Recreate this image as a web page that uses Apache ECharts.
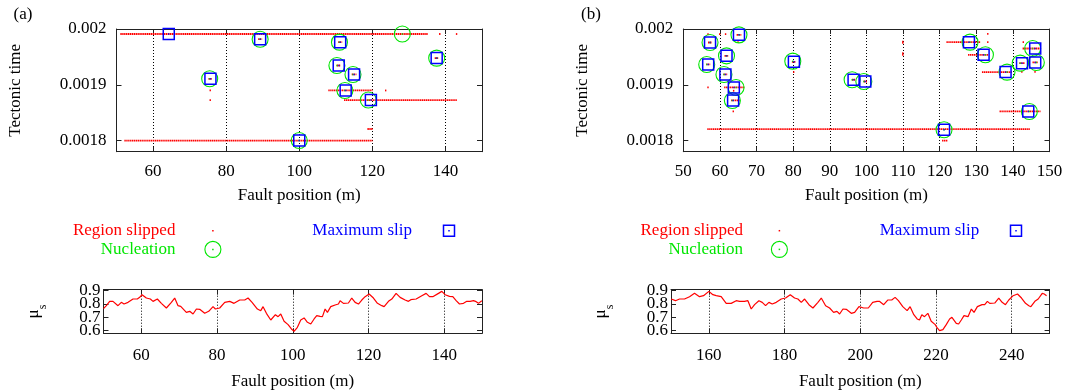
<!DOCTYPE html>
<html>
<head>
<meta charset="utf-8">
<script src="https://cdn.jsdelivr.net/npm/echarts@6/dist/echarts.min.js"></script>
<style>
  html, body { margin: 0; background: #fff; }
  #chart { width: 1067px; height: 392px; }
</style>
</head>
<body>
<div id="chart"></div>
<script>
// ---- data ----
// slipped regions: [from, to, tectonic time]
const slippedA = [
  [51.3, 135.0, 0.001991], [138.5, 138.5, 0.001991], [143.1, 143.1, 0.001991],
  [89.0, 89.6, 0.0019817],
  [75.4, 75.9, 0.0019107], [75.7, 75.7, 0.0018898], [75.7, 75.7, 0.0018726],
  [110.9, 111.5, 0.0019764], [110.5, 111.1, 0.0019346], [114.6, 115.4, 0.0019185],
  [108.2, 119.8, 0.0018898], [123.7, 123.7, 0.0018898],
  [112.5, 142.9, 0.0018726],
  [137.3, 137.9, 0.0019478],
  [52.4, 119.8, 0.0018],
  [118.9, 119.8, 0.0018207]
];
const maxSlipA = [
  [64.3, 0.001991], [89.3, 0.0019817], [75.7, 0.0019107], [111.2, 0.0019764],
  [110.8, 0.0019346], [115.0, 0.0019185], [112.7, 0.0018898], [119.6, 0.0018726],
  [137.6, 0.0019478], [100.0, 0.0018]
];
const nucleationA = [
  [128.2, 0.001991], [89.3, 0.0019817], [75.5, 0.0019107], [111.0, 0.0019764],
  [110.3, 0.0019346], [114.7, 0.0019185], [112.5, 0.0018898], [118.9, 0.0018726],
  [137.6, 0.0019478], [100.0, 0.0018]
];

const slippedB = [
  [56.8, 56.8, 0.0019908], [60.0, 60.0, 0.0019908], [61.6, 61.6, 0.0019908],
  [64.8, 65.6, 0.0019895], [65.0, 65.0, 0.0019764],
  [57.0, 57.6, 0.0019758], [61.5, 62.1, 0.0019519], [56.5, 57.1, 0.0019364],
  [61.2, 61.8, 0.0019185],
  [61.4, 66.4, 0.0018952], [56.8, 56.8, 0.0018952], [63.8, 63.8, 0.0018893],
  [63.3, 65.1, 0.0018719], [63.7, 63.7, 0.0018522],
  [79.9, 80.5, 0.0019412], [80.2, 80.2, 0.0019227],
  [96.3, 96.8, 0.001909], [99.5, 100.0, 0.0019059],
  [110.0, 110.0, 0.0019775], [110.0, 110.0, 0.001975],
  [110.0, 110.0, 0.0019565], [110.0, 110.0, 0.0019535],
  [56.8, 144.5, 0.0018206], [120.9, 122.0, 0.0018],
  [122.1, 130.9, 0.0019764], [133.2, 133.2, 0.0019913], [133.2, 133.2, 0.0019764],
  [128.0, 133.0, 0.0019537],
  [131.8, 139.6, 0.0019227],
  [142.0, 143.0, 0.0019388], [142.5, 142.5, 0.001923],
  [145.6, 146.6, 0.00194], [146.1, 146.1, 0.001923],
  [142.9, 147.3, 0.001965], [142.9, 142.9, 0.0019764],
  [136.6, 147.3, 0.0018522]
];
const maxSlipB = [
  [65.2, 0.0019895], [57.3, 0.0019758], [61.8, 0.0019519], [56.8, 0.0019364],
  [61.5, 0.0019185], [63.8, 0.0018952], [63.6, 0.0018719], [80.2, 0.0019412],
  [96.5, 0.001909], [99.7, 0.0019059], [121.2, 0.0018194], [128.0, 0.0019764],
  [132.0, 0.0019537], [138.0, 0.0019227], [142.5, 0.0019388], [146.1, 0.00194],
  [146.1, 0.001965], [144.2, 0.0018522]
];
const nucleationB = [
  [65.2, 0.0019895], [57.3, 0.0019758], [61.8, 0.0019519], [56.4, 0.0019364],
  [61.1, 0.0019185], [64.4, 0.0018952], [63.4, 0.0018719], [79.9, 0.0019424],
  [96.1, 0.001909], [99.3, 0.0019059], [121.2, 0.0018194], [128.3, 0.0019764],
  [132.5, 0.0019537], [138.4, 0.0019227], [142.0, 0.0019388], [146.4, 0.00194],
  [145.4, 0.001965], [144.5, 0.0018522]
];

// static friction profile mu_s
const muPosA = [50.0, 50.75, 51.63, 52.51, 53.83, 54.71, 55.42, 56.48, 57.8, 58.94, 59.56, 60.18, 61.32, 62.38, 63.08, 64.23, 65.29, 66.61, 67.93, 68.81, 69.69, 70.4, 71.89, 72.78, 73.66, 74.54, 75.42, 76.74, 77.8, 78.94, 79.56, 80.7, 82.03, 83.35, 84.49, 85.99, 87.31, 88.19, 89.25, 90.66, 91.54, 92.16, 93.04, 94.19, 94.71, 95.42, 96.12, 96.83, 97.71, 98.77, 99.65, 100.0, 100.35, 101.23, 102.11, 103.0, 103.88, 104.76, 105.64, 106.34, 107.22, 107.84, 108.55, 109.16, 110.04, 111.19, 112.07, 112.51, 113.39, 114.71, 115.59, 116.48, 117.36, 118.24, 119.12, 120.18, 121.32, 122.38, 123.52, 124.14, 125.29, 126.17, 127.31, 128.37, 129.69, 130.57, 131.19, 132.6, 134.1, 135.24, 136.12, 137.0, 138.5, 139.38, 140.26, 141.41, 142.29, 143.17, 144.05, 145.11, 145.99, 146.87, 147.75, 148.46, 149.07, 149.96];
const muValA = [0.765, 0.7875, 0.82, 0.82, 0.7875, 0.8125, 0.80, 0.8125, 0.8375, 0.8375, 0.85, 0.87, 0.845, 0.8375, 0.82, 0.8375, 0.805, 0.77, 0.8125, 0.845, 0.7875, 0.7825, 0.7375, 0.745, 0.725, 0.7625, 0.76, 0.73, 0.745, 0.78, 0.7625, 0.77, 0.8125, 0.82, 0.805, 0.83, 0.83, 0.845, 0.8125, 0.7625, 0.75, 0.78, 0.73, 0.68, 0.68, 0.72, 0.705, 0.725, 0.67, 0.645, 0.6125, 0.6, 0.595, 0.625, 0.68, 0.695, 0.6625, 0.65, 0.6875, 0.7125, 0.7075, 0.705, 0.7625, 0.7375, 0.78, 0.7925, 0.8, 0.825, 0.805, 0.8075, 0.845, 0.8125, 0.8, 0.83, 0.855, 0.875, 0.845, 0.805, 0.7875, 0.78, 0.82, 0.8375, 0.88, 0.85, 0.83, 0.82, 0.8325, 0.8375, 0.8625, 0.88, 0.855, 0.855, 0.88, 0.895, 0.87, 0.8575, 0.855, 0.825, 0.8, 0.805, 0.82, 0.82, 0.825, 0.8175, 0.805, 0.825];
const muPosB = [150.04, 151.19, 152.25, 153.57, 154.89, 156.21, 157.53, 158.59, 160.0, 161.06, 161.94, 163.26, 164.58, 165.9, 167.22, 168.11, 169.43, 170.31, 171.19, 172.07, 173.22, 174.1, 174.98, 175.86, 176.74, 177.8, 179.12, 180.26, 181.5, 182.64, 183.52, 184.41, 185.29, 186.43, 187.49, 188.81, 189.69, 190.84, 191.89, 192.95, 193.83, 194.54, 195.42, 196.3, 197.62, 198.5, 199.65, 200.0, 200.88, 202.12, 203.27, 204.42, 205.04, 206.18, 207.24, 208.3, 209.19, 210.07, 211.22, 212.37, 213.16, 214.13, 215.02, 215.64, 216.25, 216.96, 217.84, 218.73, 219.79, 220.32, 220.94, 221.82, 222.7, 223.59, 224.2, 225.35, 225.97, 226.68, 227.39, 228.45, 229.33, 230.04, 230.92, 232.16, 232.86, 233.57, 234.19, 235.51, 236.57, 237.46, 238.34, 239.22, 240.37, 241.52, 242.58, 243.64, 244.52, 245.05, 246.11, 246.99, 248.05, 248.59, 249.2];
const muValB = [0.8375, 0.825, 0.8375, 0.8375, 0.855, 0.88, 0.855, 0.8625, 0.895, 0.87, 0.8625, 0.855, 0.805, 0.805, 0.825, 0.82, 0.82, 0.825, 0.7625, 0.795, 0.825, 0.8125, 0.7875, 0.8125, 0.8, 0.8125, 0.8375, 0.845, 0.87, 0.845, 0.8375, 0.8125, 0.8375, 0.795, 0.77, 0.8125, 0.845, 0.7875, 0.77, 0.7375, 0.745, 0.725, 0.7625, 0.76, 0.73, 0.7375, 0.78, 0.78, 0.77, 0.77, 0.8125, 0.82, 0.82, 0.795, 0.83, 0.83, 0.85, 0.825, 0.78, 0.75, 0.78, 0.72, 0.6875, 0.68, 0.72, 0.705, 0.73, 0.67, 0.645, 0.62, 0.6, 0.6075, 0.645, 0.6875, 0.7, 0.655, 0.65, 0.68, 0.7125, 0.705, 0.7625, 0.7375, 0.78, 0.795, 0.795, 0.82, 0.805, 0.8075, 0.845, 0.8125, 0.795, 0.83, 0.8625, 0.875, 0.845, 0.805, 0.7875, 0.78, 0.82, 0.8375, 0.88, 0.875, 0.8625];

// tick labels
const timeTicks = [0.0018, 0.0019, 0.002];
const muTicks = [0.6, 0.7, 0.8, 0.9];
const posTicksA = [60, 80, 100, 120, 140];
const posTicksBBottom = [160, 180, 200, 220, 240];

// ---- chart ----
const FONT = 'Liberation Serif';
const RED = '#ff0000', GREEN = '#00e600', BLUE = '#0000ff';
const chart = echarts.init(document.getElementById('chart'), null, { renderer: 'canvas' });

const grids = [
  { left: 116.5, top: 29, width: 365.5, height: 122.7 },
  { left: 683.3, top: 29, width: 366.2, height: 122.7 },
  { left: 103.5, top: 289.7, width: 378.5, height: 43.6 },
  { left: 671, top: 289.7, width: 378.6, height: 43.6 }
];

const lineCol = { color: '#222', width: 1 };

function xAxes(g, min, max, ticks, labelMargin, nameGap) {
  const tickCfg = ticks ? { customValues: ticks } : {};
  const base = {
    type: 'value', gridIndex: g, min, max,
    interval: ticks ? undefined : 10,
    axisLine: { show: true, onZero: false, lineStyle: lineCol },
    axisTick: Object.assign({ show: true, inside: true, length: 5, lineStyle: lineCol }, tickCfg)
  };
  return [
    Object.assign({}, base, {
      position: 'bottom',
      name: 'Fault position (m)', nameLocation: 'middle', nameGap,
      nameTextStyle: { fontFamily: FONT, fontSize: 17, color: '#000' },
      axisLabel: Object.assign({ margin: labelMargin, fontFamily: FONT, fontSize: 17, color: '#000',
        showMinLabel: true, showMaxLabel: true, hideOverlap: false }, tickCfg),
      splitLine: { show: true, lineStyle: { color: '#000', width: 1, type: [1, 2] } }
    }),
    Object.assign({}, base, {
      position: 'top', axisLabel: { show: false }, splitLine: { show: false }
    })
  ];
}

// labels are split over two overlaid left axes when they sit too close together
function yAxes(g, min, max, ticks, fmt, name, nameGap, labelMargin, splitLabels) {
  const base = {
    type: 'value', gridIndex: g, min, max,
    axisLine: { show: true, onZero: false, lineStyle: lineCol },
    axisTick: { show: true, inside: true, length: 5, lineStyle: lineCol, customValues: ticks },
    splitLine: { show: false }
  };
  const labelBase = { formatter: fmt, margin: labelMargin, showMinLabel: true, showMaxLabel: true,
    hideOverlap: false, fontFamily: FONT, fontSize: 17, color: '#000' };
  const isRich = typeof name !== 'string';
  const mainLabels = splitLabels ? ticks.filter((v, i) => i % 2 === 0) : ticks;
  const axes = [
    Object.assign({}, base, {
      position: 'left', name: isRich ? name.text : name, nameLocation: 'middle', nameGap,
      nameTextStyle: isRich ? name.style : { fontFamily: FONT, fontSize: 17, color: '#000' },
      axisLabel: Object.assign({ customValues: mainLabels }, labelBase)
    }),
    Object.assign({}, base, { position: 'right', axisLabel: { show: false } })
  ];
  if (splitLabels) {
    axes.push({
      type: 'value', gridIndex: g, min, max, position: 'left',
      axisLine: { show: false }, axisTick: { show: false }, splitLine: { show: false },
      axisLabel: Object.assign({ customValues: ticks.filter((v, i) => i % 2 === 1) }, labelBase)
    });
  }
  return axes;
}

const muName = {
  text: '{m|μ}{s|s}',
  style: {
    color: '#000',
    rich: {
      m: { fontFamily: FONT, fontSize: 17, color: '#000', lineHeight: 22, verticalAlign: 'middle' },
      s: { fontFamily: FONT, fontSize: 12, color: '#000', lineHeight: 22, verticalAlign: 'bottom', padding: [0, 0, -4, 0] }
    }
  }
};

const timeFmt = v => String(+v.toFixed(4));
const muFmt = v => v.toFixed(1);

const xAxis = [].concat(
  xAxes(0, 50, 150, posTicksA, 11, 35),
  xAxes(1, 50, 150, null, 11, 35),
  xAxes(2, 50, 150, posTicksA, 14, 40),
  xAxes(3, 150, 250, posTicksBBottom, 14, 40)
);

const yAxis = [];
const yMain = [];
[
  yAxes(0, 0.00178, 0.002, timeTicks, timeFmt, 'Tectonic time', 92, 10, false),
  yAxes(1, 0.00178, 0.002, timeTicks, timeFmt, 'Tectonic time', 92, 10, false),
  yAxes(2, 0.58, 0.9075, muTicks, muFmt, muName, 59, 3, true),
  yAxes(3, 0.58, 0.9075, muTicks, muFmt, muName, 59, 3, true)
].forEach(list => { yMain.push(yAxis.length); yAxis.push(...list); });

function slippedSeries(data, g) {
  return {
    type: 'custom', xAxisIndex: 2 * g, yAxisIndex: yMain[g],
    dimensions: ['from', 'to', 'time'],
    encode: { x: [0, 1], y: 2 },
    data, z: 2, silent: true,
    renderItem(params, api) {
      const p0 = api.coord([api.value(0), api.value(2)]);
      const p1 = api.coord([api.value(1), api.value(2)]);
      return {
        type: 'line',
        shape: { x1: p0[0] - 0.9, y1: p0[1], x2: p1[0] + 0.9, y2: p1[1] },
        style: { stroke: RED, lineWidth: 1.8, lineDash: [1.4, 0.5] }
      };
    }
  };
}

function markerSeries(data, g, symbol, size, color, width, z) {
  return [{
    type: 'scatter', xAxisIndex: 2 * g, yAxisIndex: yMain[g], data, z, silent: true,
    symbol, symbolSize: size,
    itemStyle: { color: 'rgba(0,0,0,0)', borderColor: color, borderWidth: width, opacity: 1 }
  }, {
    type: 'scatter', xAxisIndex: 2 * g, yAxisIndex: yMain[g], data, z: z + 1, silent: true,
    symbol: 'rect', symbolSize: 1.5, itemStyle: { color }
  }];
}

function muSeries(xs, ys, g) {
  return {
    type: 'line', xAxisIndex: 2 * g, yAxisIndex: yMain[g],
    data: xs.map((x, i) => [x, ys[i]]),
    showSymbol: false, symbol: 'none', silent: true,
    lineStyle: { color: RED, width: 1.2 }
  };
}

const series = [].concat(
  slippedSeries(slippedA, 0),
  markerSeries(nucleationA, 0, 'circle', 16, GREEN, 1.1, 3),
  markerSeries(maxSlipA, 0, 'rect', 11, BLUE, 1.5, 5),
  slippedSeries(slippedB, 1),
  markerSeries(nucleationB, 1, 'circle', 16, GREEN, 1.1, 3),
  markerSeries(maxSlipB, 1, 'rect', 11, BLUE, 1.5, 5),
  muSeries(muPosA, muValA, 2),
  muSeries(muPosB, muValB, 3)
);

// gnuplot style keys: text, then symbol
function key(textRight, symX, slipRight, slipSymX) {
  const txt = (t, x, y, fill) => ({
    type: 'text', x, y, silent: true,
    style: { text: t, fill, font: '17px "Liberation Serif"', textAlign: 'right', align: 'right',
      textVerticalAlign: 'middle', verticalAlign: 'middle' }
  });
  const dot = (x, y, fill) => ({ type: 'rect', shape: { x: x - 0.75, y: y - 0.75, width: 1.5, height: 1.5 }, style: { fill }, silent: true });
  return [
    txt('Region slipped', textRight, 230.7, RED),
    dot(symX, 230.7, RED),
    txt('Nucleation', textRight, 249.4, GREEN),
    { type: 'circle', shape: { cx: symX, cy: 249.4, r: 8 }, style: { fill: 'none', stroke: GREEN, lineWidth: 1.1 }, silent: true },
    dot(symX, 249.4, GREEN),
    txt('Maximum slip', slipRight, 230.7, BLUE),
    { type: 'rect', shape: { x: slipSymX - 5.5, y: 225.2, width: 11, height: 11 }, style: { fill: 'none', stroke: BLUE, lineWidth: 1.5 }, silent: true },
    dot(slipSymX, 230.7, BLUE)
  ];
}

const panelLabel = (t, x) => ({
  type: 'text', x, y: 15, silent: true,
  style: { text: t, fill: '#000', font: '17px "Liberation Serif"', textAlign: 'center', align: 'center',
    textVerticalAlign: 'middle', verticalAlign: 'middle' }
});

chart.setOption({
  animation: false,
  backgroundColor: '#fff',
  textStyle: { fontFamily: FONT },
  grid: grids,
  xAxis, yAxis, series,
  graphic: [].concat(
    panelLabel('(a)', 23),
    panelLabel('(b)', 591),
    key(175.4, 212.9, 412, 449),
    key(743, 779.4, 979.3, 1016)
  )
});
</script>
</body>
</html>
